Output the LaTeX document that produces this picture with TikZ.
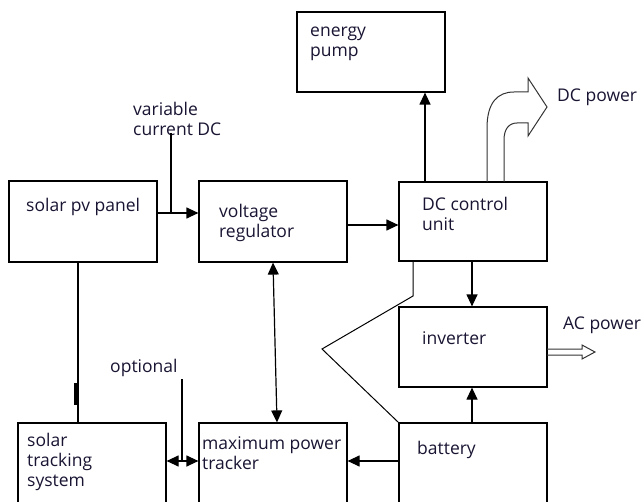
\documentclass[tikz,border=0pt]{standalone}
\usepackage{fontspec}
\setmainfont{Open Sans}
\usetikzlibrary{arrows.meta,calc}
\definecolor{txt}{RGB}{25,20,50}
\begin{document}
\begin{tikzpicture}[x=1pt,y=-1pt,
  box/.style={draw, line width=1.2pt, minimum width=148pt, minimum height=80pt, inner sep=0pt},
  lbl/.style={font=\fontsize{17.5}{20}\selectfont, text=txt, align=left, inner sep=0pt, anchor=west},
  arr/.style={line width=1.2pt, -{Triangle[length=12pt,width=11pt]}},
  darr/.style={line width=1.2pt, {Triangle[length=12pt,width=11pt]}-{Triangle[length=12pt,width=11pt]}},
  ln/.style={line width=1.2pt},
  hollow/.style={line width=1pt, line join=miter}]
\useasboundingbox (0,0) rectangle (644,502);
% boxes
\node[box, minimum height=81pt] (pv) at (83,221.5) {};
\node[box, minimum height=81pt] (reg) at (273,221.5) {};
\node[box, minimum height=79pt] (dcu) at (473,221.5) {};
\node[box] (pump) at (371,52) {};
\node[box] (inv) at (473,347) {};
\node[box, minimum height=84pt] (bat) at (473,465) {};
\node[box, minimum height=84pt] (mpt) at (273,465) {};
\node[box, minimum height=84pt] (sts) at (92,465) {};
% labels
\node[lbl] (tpump) at (310,44) {energy\\pump};
\node[lbl] (tpv) at (26,207) {solar pv panel};
\node[lbl] (treg) at (219,222.5) {voltage\\regulator};
\node[lbl] (tdcu) at (422,214) {DC control\\unit};
\node[lbl] (tinv) at (422,338) {inverter};
\node[lbl] (tbat) at (417,450) {battery};
\node[lbl] (tmpt) at (202,453.5) {maximum power\\tracker};
\node[lbl] (tsts) at (27,461.5) {solar\\tracking\\system};
\node[lbl] (topt) at (110,368) {optional};
\node[lbl] (tvcd) at (133,119) {variable\\current DC};
\node[lbl] (tdcp) at (557,97) {DC power};
\node[lbl] (tacp) at (563,325) {AC power};
% helper coordinates
\coordinate (yA) at (0,213);
\coordinate (yB) at (0,225);
\coordinate (xC) at (425,0);
\coordinate (xD) at (472,0);
\coordinate (yE) at (0,461);
\coordinate (xF) at (78,0);
\coordinate (vcd) at (171,133);
\coordinate (opt) at (182,379);
\coordinate (z1) at (413,296);
\coordinate (z2) at (322,349);
% connectors
\draw[arr] (pv.east |- yA) -- (reg.west |- yA);
\draw[ln] (vcd) -- (vcd |- yA);
\draw[arr] (reg.east |- yB) -- (dcu.west |- yB);
\draw[arr] (dcu.north -| xC) -- (pump.south -| xC);
\draw[arr] (dcu.south -| xD) -- (inv.north -| xD);
\draw[arr] (bat.north -| xD) -- (inv.south -| xD);
\draw[arr] (bat.west |- yE) -- (mpt.east |- yE);
\draw[darr] (sts.east |- yE) -- (mpt.west |- yE);
\draw[ln] (opt) -- (opt |- yE);
\draw[darr] (reg.south) -- ($(mpt.north)+(4,0)$);
\draw[ln] (pv.south -| xF) -- (sts.north -| xF);
\fill (74,383) rectangle (78.6,405);
\draw[line width=1pt] (dcu.south -| z1) -- (z1) -- (z2) -- (bat.north west);
% DC power curved block arrow
\draw[hollow, draw=black!80] (487,182) -- (487,128) .. controls (487,102) and (498,92) .. (514,92) -- (528,92) -- (528,78) -- (547,107) -- (528,136) -- (528,123) -- (517,123) .. controls (509,123) and (504,129) .. (504,140) -- (504,182);
% AC power hollow arrow
\draw[hollow, draw=black!80] (547,349) -- (582,349) -- (582,345) -- (595,352) -- (582,359) -- (582,355) -- (547,355);
\end{tikzpicture}
\end{document}
